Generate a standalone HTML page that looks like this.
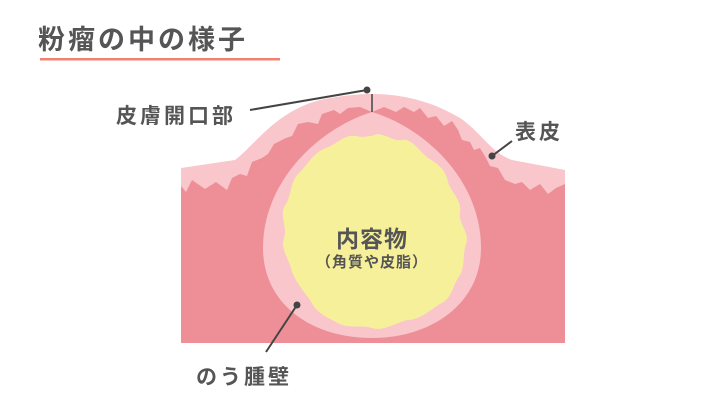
<!DOCTYPE html>
<html><head><meta charset="utf-8"><style>
body{margin:0;background:#fff;width:720px;height:400px;overflow:hidden}
svg{display:block}
text{font-family:"Liberation Sans","Noto Sans CJK JP",sans-serif;fill:#555;font-weight:bold}
</style></head><body>
<svg width="720" height="400" viewBox="0 0 720 400">
<text x="38" y="49" font-size="27" letter-spacing="3">粉瘤の中の様子</text>
<rect x="40" y="58" width="240" height="2.5" fill="#f08070"/>
<path d="M181,168 L235,160 C255,145 275,112 320,100 C345,95 360,94 372,94 C400,94 430,100 460,118 C482,133 490,152 512,160 L565,170 L565,343 L181,343 Z" fill="#f8c6cb"/>
<path d="M181,186 L186,192 L192,180 L205,189 L216,182 L227,190 L232,178 L240,174 L247,176 L252,162 L262,158 L268,154 L274,144 L286,138 L292,136 L298,124 L308,122 L318,124 L322,114 L334,110 L340,114 L348,108 L360,107 L372,112 L384,107 L396,112 L404,107 L414,112 L420,108 L428,118 L436,116 L444,126 L452,121 L458,130 L462,140 L470,142 L474,150 L480,148 L486,158 L490,166 L498,168 L505,180 L515,184 L522,182 L530,190 L540,184 L548,194 L556,188 L565,184 L565,343 L181,343 Z" fill="#ee8e97"/>
<path d="M372,112 C425,128 481,180 481,248 C481,303 432,338 372,338 C310,338 263,303 263,248 C263,180 320,128 372,112Z" fill="#f8c6cb"/>
<path d="M372,136 C382,130 392,142 402,140 C412,138 420,152 428,158 C438,164 446,170 448,182 C452,194 462,200 460,212 C458,224 470,232 466,244 C462,256 466,268 458,278 C452,288 452,298 440,304 C430,310 420,320 408,320 C396,322 384,332 372,328 C360,324 348,330 336,322 C324,316 316,312 310,300 C304,292 296,282 292,272 C290,260 280,250 284,238 C288,226 278,214 286,204 C292,194 290,180 300,172 C308,164 314,152 326,148 C338,144 344,134 356,136 C364,138 366,136 372,136Z" fill="#f7f09a"/>
<text x="372" y="247" font-size="23" text-anchor="middle" letter-spacing="1">内容物</text>
<text x="372" y="267" font-size="15" text-anchor="middle" letter-spacing="1">（角質や皮脂）</text>
<line x1="372" y1="94" x2="372" y2="112" stroke="#444" stroke-width="1.5"/>
<line x1="250" y1="110" x2="367" y2="90" stroke="#444" stroke-width="2"/>
<circle cx="367" cy="90" r="3.5" fill="#444"/>
<text x="116" y="123" font-size="21" letter-spacing="3">皮膚開口部</text>
<line x1="512" y1="141" x2="492" y2="156" stroke="#444" stroke-width="2"/>
<circle cx="492" cy="156" r="3.5" fill="#444"/>
<text x="515" y="139" font-size="21" letter-spacing="3">表皮</text>
<line x1="297" y1="305" x2="266" y2="352" stroke="#444" stroke-width="2"/>
<circle cx="297" cy="305" r="3.5" fill="#444"/>
<text x="196" y="384" font-size="21" letter-spacing="3">のう腫壁</text>
</svg>
</body></html>
